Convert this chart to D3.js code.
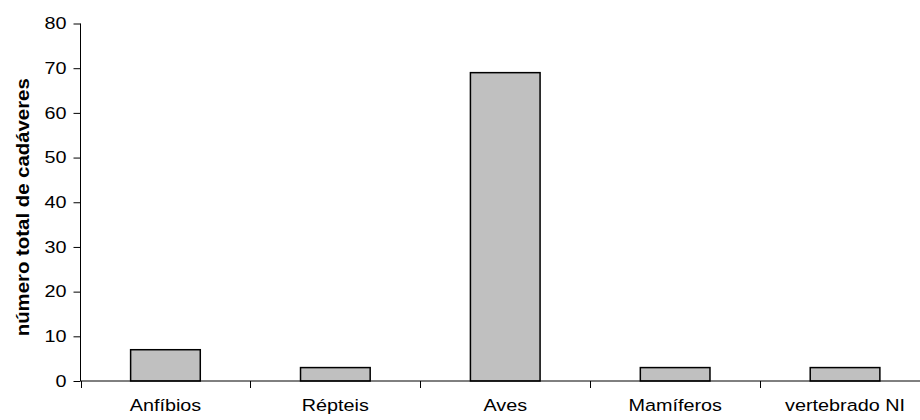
<!DOCTYPE html>
<html>
<head>
<meta charset="utf-8">
<script src="https://cdn.jsdelivr.net/npm/d3@7"></script>
<style>
html,body{margin:0;padding:0;background:#fff;}
svg{display:block;}
text{font-family:"Liberation Sans",Arial,sans-serif;}
</style>
</head>
<body>
<svg id="chart" width="920" height="420"></svg>
<script>
const categories = ["Anfíbios", "Répteis", "Aves", "Mamíferos", "vertebrado NI"];
const values = [7, 3, 69, 3, 3];
const yTicks = [0, 10, 20, 30, 40, 50, 60, 70, 80];
const yLabel = "número total de cadáveres";

const svg = d3.select("#chart");
const x0 = 80.5, x1 = 930, yTop = 23.5, yBot = 381;
const FONT = "'Liberation Sans', Arial, sans-serif";
const SX = 1.2; // horizontal stretch of the reference text

const x = d3.scaleBand().domain(categories).range([x0, x1]).paddingInner(0).paddingOuter(0);
const y = d3.scaleLinear().domain([0, 80]).range([yBot, yTop]);

// Bars
const bw = x.bandwidth() * 0.41;
svg.append("g").selectAll("rect").data(values).join("rect")
  .attr("x", (d, i) => x(categories[i]) + x.bandwidth() / 2 - bw / 2)
  .attr("y", d => y(d))
  .attr("width", bw)
  .attr("height", d => y(0) - y(d))
  .attr("fill", "#c0c0c0")
  .attr("stroke", "#000")
  .attr("stroke-width", 1.5);

// Y axis
const yAxis = d3.axisLeft(y).tickValues(yTicks).tickSize(7).tickPadding(7).tickFormat(d3.format("d"));
const gy = svg.append("g").attr("transform", `translate(${x0},0)`).call(yAxis);
gy.select(".domain").attr("d", `M0,${yTop}V${yBot}`).attr("stroke", "#000");
gy.selectAll(".tick line").attr("stroke", "#000");
gy.selectAll(".tick text")
  .attr("x", 0)
  .attr("transform", `translate(-14,0) scale(${SX},1)`)
  .attr("font-size", 16.5).attr("fill", "#000").attr("font-family", FONT);

// X axis
const boundaries = categories.map(c => x(c));
const xAxis = d3.axisBottom(x).tickSize(0).tickPadding(18);
const gx = svg.append("g").attr("transform", `translate(0,${yBot})`).call(xAxis);
gx.select(".domain").attr("d", `M${x0},0H${x1}`).attr("stroke", "#000");
gx.selectAll(".tick text")
  .attr("transform", `scale(${SX},1)`)
  .attr("font-size", 16.5).attr("fill", "#000").attr("font-family", FONT);
gx.append("g").selectAll("line").data(boundaries).join("line")
  .attr("x1", d => Math.round(d) + 0.5).attr("x2", d => Math.round(d) + 0.5)
  .attr("y1", 0).attr("y2", 7)
  .attr("stroke", "#000");

// Y label
svg.append("text")
  .attr("transform", `translate(29,${(yTop + yBot) / 2 + 5}) rotate(-90)`)
  .attr("text-anchor", "middle")
  .attr("font-size", 17.5)
  .attr("font-weight", "bold")
  .attr("fill", "#000")
  .attr("textLength", 258)
  .attr("lengthAdjust", "spacingAndGlyphs")
  .text(yLabel);
</script>
</body>
</html>
